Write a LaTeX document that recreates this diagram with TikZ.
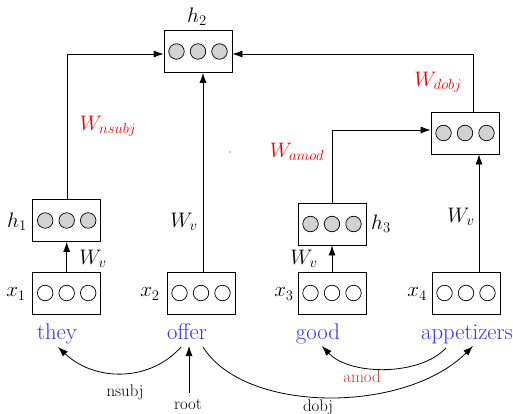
\RequirePackage{fix-cm}
\documentclass[tikz,border=0pt]{standalone}
\usetikzlibrary{arrows.meta,calc}
\definecolor{wordblue}{RGB}{50,50,255}
\definecolor{amodred}{RGB}{190,55,55}
\tikzset{
  vbox/.style={draw, line width=0.8pt, minimum width=68pt, minimum height=42pt, inner sep=0pt},
  unit/.style={circle, draw, line width=0.7pt, minimum size=15.5pt, inner sep=0pt},
  arr/.style={line width=0.8pt, -{Latex[length=10pt,width=7pt]}},
  big/.style={font=\fontsize{21}{25}\selectfont, inner sep=0pt},
  word/.style={font=\fontsize{22.7}{27}\selectfont, text=wordblue, inner sep=0pt, anchor=base},
  rel/.style={font=\fontsize{16.8}{20}\selectfont, inner sep=0pt},
  wlab/.style={font=\fontsize{21}{25}\selectfont, text=red, inner sep=0pt},
}
\newcommand{\vecnode}[3]{%
  \node[vbox] (#1) at (#2) {};
  \foreach \dx/\k in {-21.5/a,0/b,21.5/c}
    \node[unit, fill=#3] (#1\k) at ([xshift=\dx pt]#1.center) {};
}
\begin{document}
\begin{tikzpicture}[x=1pt,y=-1pt]
\useasboundingbox (0,0) rectangle (513,414);
% vector boxes
\vecnode{h2}{198,51.5}{gray!35}
\vecnode{h1}{66.7,220.5}{gray!35}
\vecnode{x1}{66.7,293}{white}
\vecnode{x2}{201,293}{white}
\vecnode{h3}{332,224}{gray!35}
\vecnode{x3}{332,293}{white}
\vecnode{x4}{466,293}{white}
\vecnode{hd}{465,133}{gray!35}
% names
\node[big] (lh2) at (197,17) {$h_2$};
\node[big] (lh1) at (17,222) {$h_1$};
\node[big] (lx1) at (16,294) {$x_1$};
\node[big] (lx2) at (150,294) {$x_2$};
\node[big] (lx3) at (284,294) {$x_3$};
\node[big] (lx4) at (417,294) {$x_4$};
\node[big] (lh3) at (381,224) {$h_3$};
% weight labels
\node[wlab] (wn) at (108,126) {$W_{nsubj}$};
\node[wlab] (wd) at (438,82) {$W_{dobj}$};
\node[wlab] (wa) at (297,152) {$W_{amod}$};
\node[big] (wv1) at (93,259) {$W_v$};
\node[big] (wv2) at (184,222) {$W_v$};
\node[big] (wv3) at (304,259) {$W_v$};
\node[big] (wv4) at (461,217) {$W_v$};
% stray dot
\node[circle, fill=gray!70, inner sep=0pt, minimum size=1.6pt] (dot) at (230,152) {};
% connectors
\draw[arr] (x1.north) -- (h1.south);
\draw[arr] ([xshift=1pt]h1.north) |- ([yshift=-2.5pt]h2.west);
\draw[arr] ([xshift=2pt]x2.north) -- ([xshift=2pt]x2.north |- h2.south);
\draw[arr] (x3.north) -- (h3.south);
\draw[arr] (h3.north) |- ([yshift=3pt]hd.west);
\draw[arr] ([xshift=13pt]x4.north) -- ([xshift=13pt]x4.north |- hd.south);
\draw[arr] ([xshift=8pt]hd.north) |- ([yshift=-2.5pt]h2.east);
% words
\node[word] (they) at (57,339.5) {they};
\node[word] (offer) at (187,339.5) {offer};
\node[word] (good) at (318,339.5) {good};
\node[word] (appet) at (467,339.5) {appetizers};
% arc end points
\coordinate (offL) at (181,347);
\coordinate (offR) at (203,347);
\coordinate (offB) at (189,346);
\coordinate (theyT) at (58,347);
\coordinate (goodT) at (322,346);
\coordinate (appL) at (446,348);
\coordinate (appT) at (473,346);
\coordinate (rootS) at (189,393);
% dependency arcs
\draw[arr] (offL) .. controls (150,382) and (95,382) .. (theyT);
\draw[arr] (rootS) -- (offB);
\draw[arr] (offR) .. controls (245,414) and (405,414) .. (appT);
\draw[arr] (appL) .. controls (420,376) and (350,376) .. (goodT);
% relation labels
\node[rel] (lnsubj) at (125,392) {nsubj};
\node[rel] (lroot) at (188,404) {root};
\node[rel] (ldobj) at (318,407) {dobj};
\node[rel, text=amodred] (lamod) at (362,377) {amod};
\end{tikzpicture}
\end{document}
